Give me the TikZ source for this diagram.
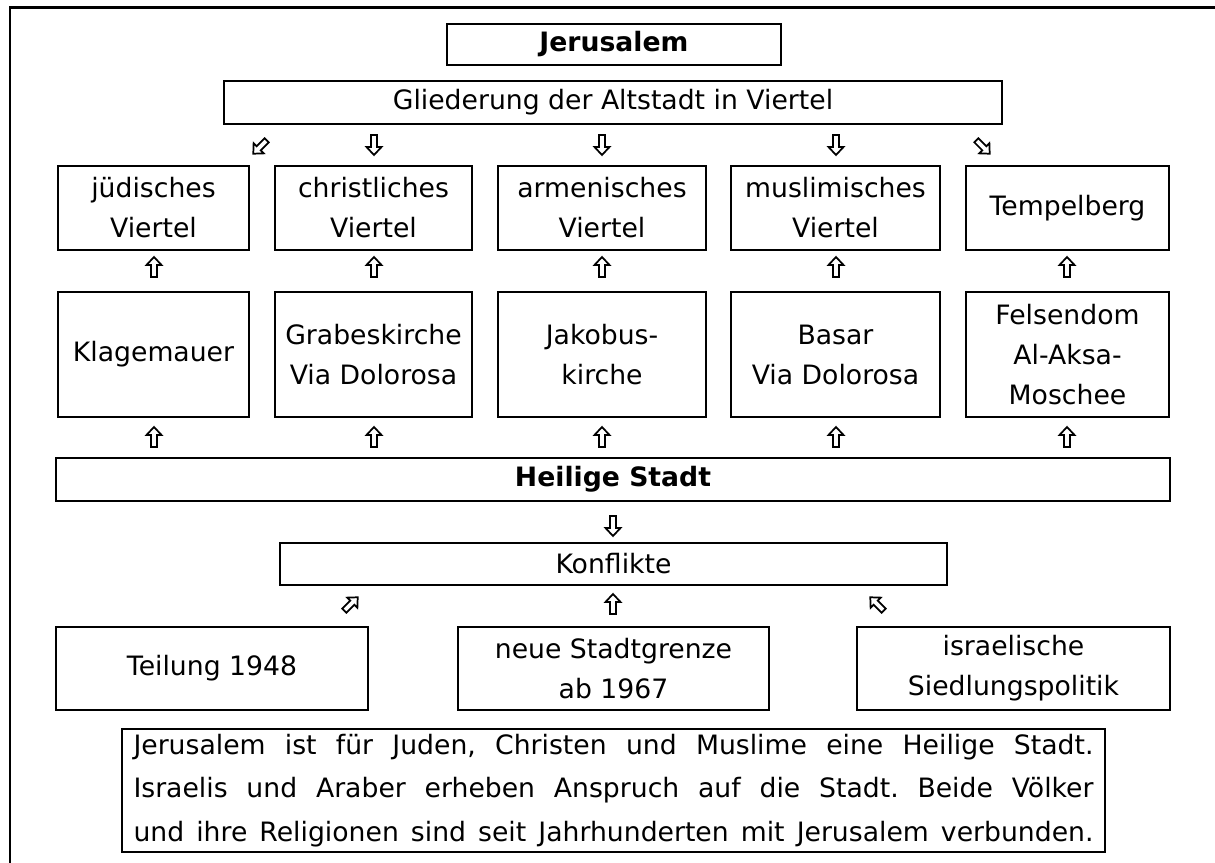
\documentclass[tikz,border=0pt]{standalone}
\usepackage{fontspec}
\setmainfont{DejaVu Sans}
\tikzset{
  box/.style={draw, line width=1.9pt, inner sep=0pt, align=center,
    font=\fontsize{20}{30}\selectfont},
  bbox/.style={box, font=\fontsize{20}{30}\selectfont\bfseries},
  corners/.style n args={4}{minimum width={(#3-#1)*0.75pt},
    minimum height={(#4-#2)*0.75pt}, at={({(#1+#3)/2},{(#2+#4)/2})}},
  harrow/.pic={\draw[line width=1.3pt, line join=miter, miter limit=4]
    (-3,10) -- (-3,-2) -- (-7.5,-2) -- (0,-10) -- (7.5,-2) -- (3,-2) -- (3,10) -- cycle;},
  frameline/.style={line width=2.2pt},
}
\begin{document}
\begin{tikzpicture}[x=0.75pt,y=-0.75pt]
\useasboundingbox (0,0) rectangle (1215,863);
% outer frame (top and left edges visible)
\draw[frameline] (1215,7.5) -- (10,7.5) -- (10,863);

% top
\node[bbox, corners={447}{24}{781}{65}] (jer) {Jerusalem};
\node[box, corners={224}{81}{1002}{124}] (glied) {Gliederung der Altstadt in Viertel};

% row 1
\node[box, corners={58}{166}{249}{250}] (jv) {jüdisches\\Viertel};
\node[box, corners={275}{166}{472}{250}] (cv) {christliches\\Viertel};
\node[box, corners={498}{166}{706}{250}] (av) {armenisches\\Viertel};
\node[box, corners={731}{166}{940}{250}] (mv) {muslimisches\\Viertel};
\node[box, corners={966}{166}{1169}{250}] (tb) {Tempelberg};

% row 2
\node[box, corners={58}{292}{249}{417}] (kl) {Klagemauer};
\node[box, corners={275}{292}{472}{417}] (gk) {Grabeskirche\\Via Dolorosa};
\node[box, corners={498}{292}{706}{417}] (jk) {Jakobus-\\kirche};
\node[box, corners={731}{292}{940}{417}] (bs) {Basar\\Via Dolorosa};
\node[box, corners={966}{292}{1169}{417}] (fd) {Felsendom\\Al-Aksa-\\Moschee};

% Heilige Stadt and Konflikte
\node[bbox, corners={56}{458}{1170}{501}] (hs) {Heilige Stadt};
\node[box, corners={280}{543}{947}{585}] (ko) {Konflikte};

% bottom row
\node[box, corners={56}{627}{368}{710}] (te) {Teilung 1948};
\node[box, corners={458}{627}{769}{710}] (ns) {neue Stadtgrenze\\ab 1967};
\node[box, corners={857}{627}{1170}{710}] (is) {israelische\\Siedlungspolitik};

% text box
\node[box, corners={122}{729}{1105}{852}, text width=720pt, align=justify,
  font=\fontsize{20}{32.5}\selectfont] (txt)
  {\frenchspacing\tolerance=10000\parfillskip=0pt
   Jerusalem ist für Juden, Christen und Muslime eine Heilige Stadt.\linebreak
   Israelis und Araber erheben Anspruch auf die Stadt. Beide Völker\linebreak
   und ihre Religionen sind seit Jahrhunderten mit Jerusalem verbunden.\par};

% hollow arrows: Gliederung -> quarters
\pic[rotate=135, scale=.95] (g1) at (260,147) {harrow};
\pic[rotate=180] (g2) at (374,145) {harrow};
\pic[rotate=180] (g3) at (602,145) {harrow};
\pic[rotate=180] (g4) at (836,145) {harrow};
\pic[rotate=-135, scale=.95] (g5) at (983,147) {harrow};

% row 2 -> row 1, Heilige Stadt -> row 2
\foreach \xx in {154,374,602,836,1067} {
  \pic at (\xx,267) {harrow};
  \pic at (\xx,437) {harrow};
}

% Heilige Stadt -> Konflikte
\pic[rotate=180] (h1) at (613,526) {harrow};

% bottom -> Konflikte
\pic[rotate=-45, scale=.95] (k1) at (351,604) {harrow};
\pic (k2) at (613,604) {harrow};
\pic[rotate=45, scale=.95] (k3) at (877,604) {harrow};
\end{tikzpicture}
\end{document}
